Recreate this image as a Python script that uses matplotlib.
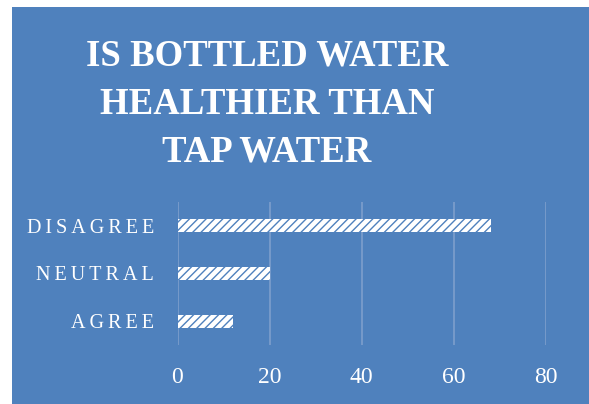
import matplotlib

matplotlib.use("Agg")
import matplotlib.pyplot as plt
from matplotlib.patches import Rectangle

# Survey answers, bottom to top
CATEGORIES = ["AGREE", "NEUTRAL", "DISAGREE"]
COUNTS = [12, 20, 68]
X_TICKS = [0, 20, 40, 60, 80]
TITLE_LINES = ["IS BOTTLED WATER", "HEALTHIER THAN", "TAP WATER"]

BLUE = "#4F81BD"
GRID = "#7D9FCC"
W, H, DPI = 589, 404, 100
SERIF = "Liberation Serif"

plt.rcParams["hatch.linewidth"] = 1.0
plt.rcParams["hatch.color"] = BLUE

fig = plt.figure(figsize=(W / DPI, H / DPI), dpi=DPI, facecolor="white")
# blue panel, leaving a thin white margin on the left and top
fig.patches.append(
    Rectangle((12 / W, 0), 1, (H - 7) / H, transform=fig.transFigure,
              facecolor=BLUE, edgecolor="none", zorder=-10)
)

ax = fig.add_axes([177.5 / W, (H - 345) / H, (546 - 177.5) / W, 143 / H])
ax.set_facecolor("none")
ax.barh(range(len(CATEGORIES)), COUNTS, height=0.27, color="white",
        edgecolor=BLUE, linewidth=0, hatch="////", zorder=3)

ax.set_xlim(0, 80)
ax.set_ylim(-0.5, len(CATEGORIES) - 0.5)
ax.set_xticks(X_TICKS)
ax.set_yticks(range(len(CATEGORIES)))
ax.set_yticklabels(["\u2009".join(c) for c in CATEGORIES])
ax.xaxis.grid(True, color=GRID, linewidth=1.2, zorder=0)
ax.set_axisbelow(True)
for s in ax.spines.values():
    s.set_visible(False)
ax.tick_params(axis="x", length=0, pad=16, labelsize=17, labelcolor="white")
ax.tick_params(axis="y", length=0, pad=17, labelsize=14.5, labelcolor="white")
for lab in ax.get_xticklabels() + ax.get_yticklabels():
    lab.set_fontfamily(SERIF)

# three-line title, one baseline per line
for i, line in enumerate(TITLE_LINES):
    fig.text(267 / W, 1 - (66 + 47.5 * i) / H, line, ha="center",
             va="baseline", color="white", fontsize=26.5, fontweight="bold",
             fontfamily=SERIF)

fig.savefig("out.png", dpi=DPI, facecolor="white")
